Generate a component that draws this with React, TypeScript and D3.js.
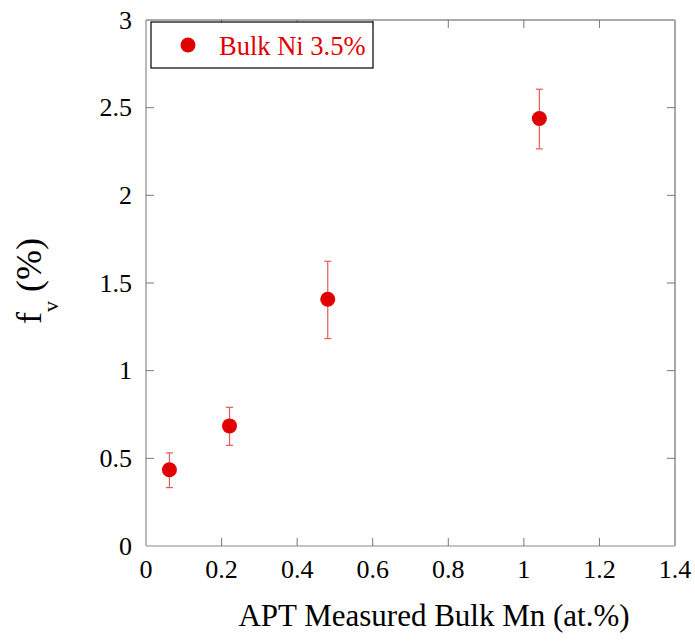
import React from "react";
import * as d3 from "d3";

// Bulk Mn content measured by APT (at.%) vs volume fraction f_v (%)
const mnContent = [0.062, 0.221, 0.481, 1.041];
const volumeFraction = [0.435, 0.685, 1.407, 2.438];
const errorLow = [0.333, 0.574, 1.183, 2.265];
const errorHigh = [0.531, 0.791, 1.624, 2.605];
const xTicks = [0, 0.2, 0.4, 0.6, 0.8, 1, 1.2, 1.4];
const yTicks = [0, 0.5, 1, 1.5, 2, 2.5, 3];
const seriesName = "Bulk Ni 3.5%";

const W = 695;
const H = 643;
const left = 146;
const right = 675;
const top = 20;
const bottom = 546;
const RED = "#e00000";
const FONT = "Times New Roman, Liberation Serif, DejaVu Serif, serif";

export default function App() {
  const x = d3.scaleLinear().domain([0, 1.4]).range([left, right]);
  const y = d3.scaleLinear().domain([0, 3]).range([bottom, top]);
  const tickLen = 8;
  const cap = 3.5;

  return (
    <svg
      width={W}
      height={H}
      style={{ position: "absolute", left: 0, top: 0, background: "#fff", fontFamily: FONT }}
    >
      {/* frame */}
      <line x1={left} y1={top} x2={right} y2={top} stroke="#555" strokeWidth={1.2} />
      <line x1={left} y1={top} x2={left} y2={bottom} stroke="#8a8a8a" strokeWidth={1.2} />
      <line x1={left} y1={bottom} x2={right} y2={bottom} stroke="#8a8a8a" strokeWidth={1.2} />
      <line x1={right} y1={top} x2={right} y2={bottom} stroke="#aaa" strokeWidth={2} />

      {/* x ticks */}
      {xTicks.map((t, i) => (
        <g key={"x" + i}>
          {i > 0 && i < xTicks.length - 1 && (
            <>
              <line x1={x(t)} x2={x(t)} y1={bottom} y2={bottom - tickLen} stroke="#777" strokeWidth={1} />
              <line x1={x(t)} x2={x(t)} y1={top} y2={top + tickLen} stroke="#777" strokeWidth={1} />
            </>
          )}
          <text x={x(t)} y={bottom + 32} textAnchor="middle" fontSize={26} fill="#000">
            {String(t)}
          </text>
        </g>
      ))}

      {/* y ticks */}
      {yTicks.map((t, i) => (
        <g key={"y" + i}>
          {i > 0 && i < yTicks.length - 1 && (
            <>
              <line x1={left} x2={left + tickLen} y1={y(t)} y2={y(t)} stroke="#777" strokeWidth={1} />
              <line x1={right} x2={right - tickLen} y1={y(t)} y2={y(t)} stroke="#777" strokeWidth={1} />
            </>
          )}
          <text x={132} y={y(t) + 8.5} textAnchor="end" fontSize={26} fill="#000">
            {String(t)}
          </text>
        </g>
      ))}

      {/* error bars */}
      {mnContent.map((m, i) => (
        <g key={"e" + i} stroke="#e35a5a" strokeWidth={1.2}>
          <line x1={x(m)} x2={x(m)} y1={y(errorLow[i])} y2={y(errorHigh[i])} />
          <line x1={x(m) - cap} x2={x(m) + cap} y1={y(errorLow[i])} y2={y(errorLow[i])} />
          <line x1={x(m) - cap} x2={x(m) + cap} y1={y(errorHigh[i])} y2={y(errorHigh[i])} />
        </g>
      ))}

      {/* points */}
      {mnContent.map((m, i) => (
        <circle key={"p" + i} cx={x(m)} cy={y(volumeFraction[i])} r={7.5} fill={RED} />
      ))}

      {/* legend */}
      <rect x={151} y={22} width={222} height={46} fill="#fff" stroke="#000" strokeWidth={1.2} />
      <circle cx={188} cy={45} r={7.5} fill={RED} />
      <text x={219} y={55} fontSize={26.5} fill={RED}>
        {seriesName}
      </text>

      {/* axis titles */}
      <text x={434} y={626} textAnchor="middle" fontSize={31} fill="#000">
        APT Measured Bulk Mn (at.%)
      </text>
      <text transform="translate(41,324) rotate(-90)" fontSize={36} fill="#000">
        f<tspan fontSize={22} dy={17}>v</tspan>
        <tspan dy={-17}> (%)</tspan>
      </text>
    </svg>
  );
}
